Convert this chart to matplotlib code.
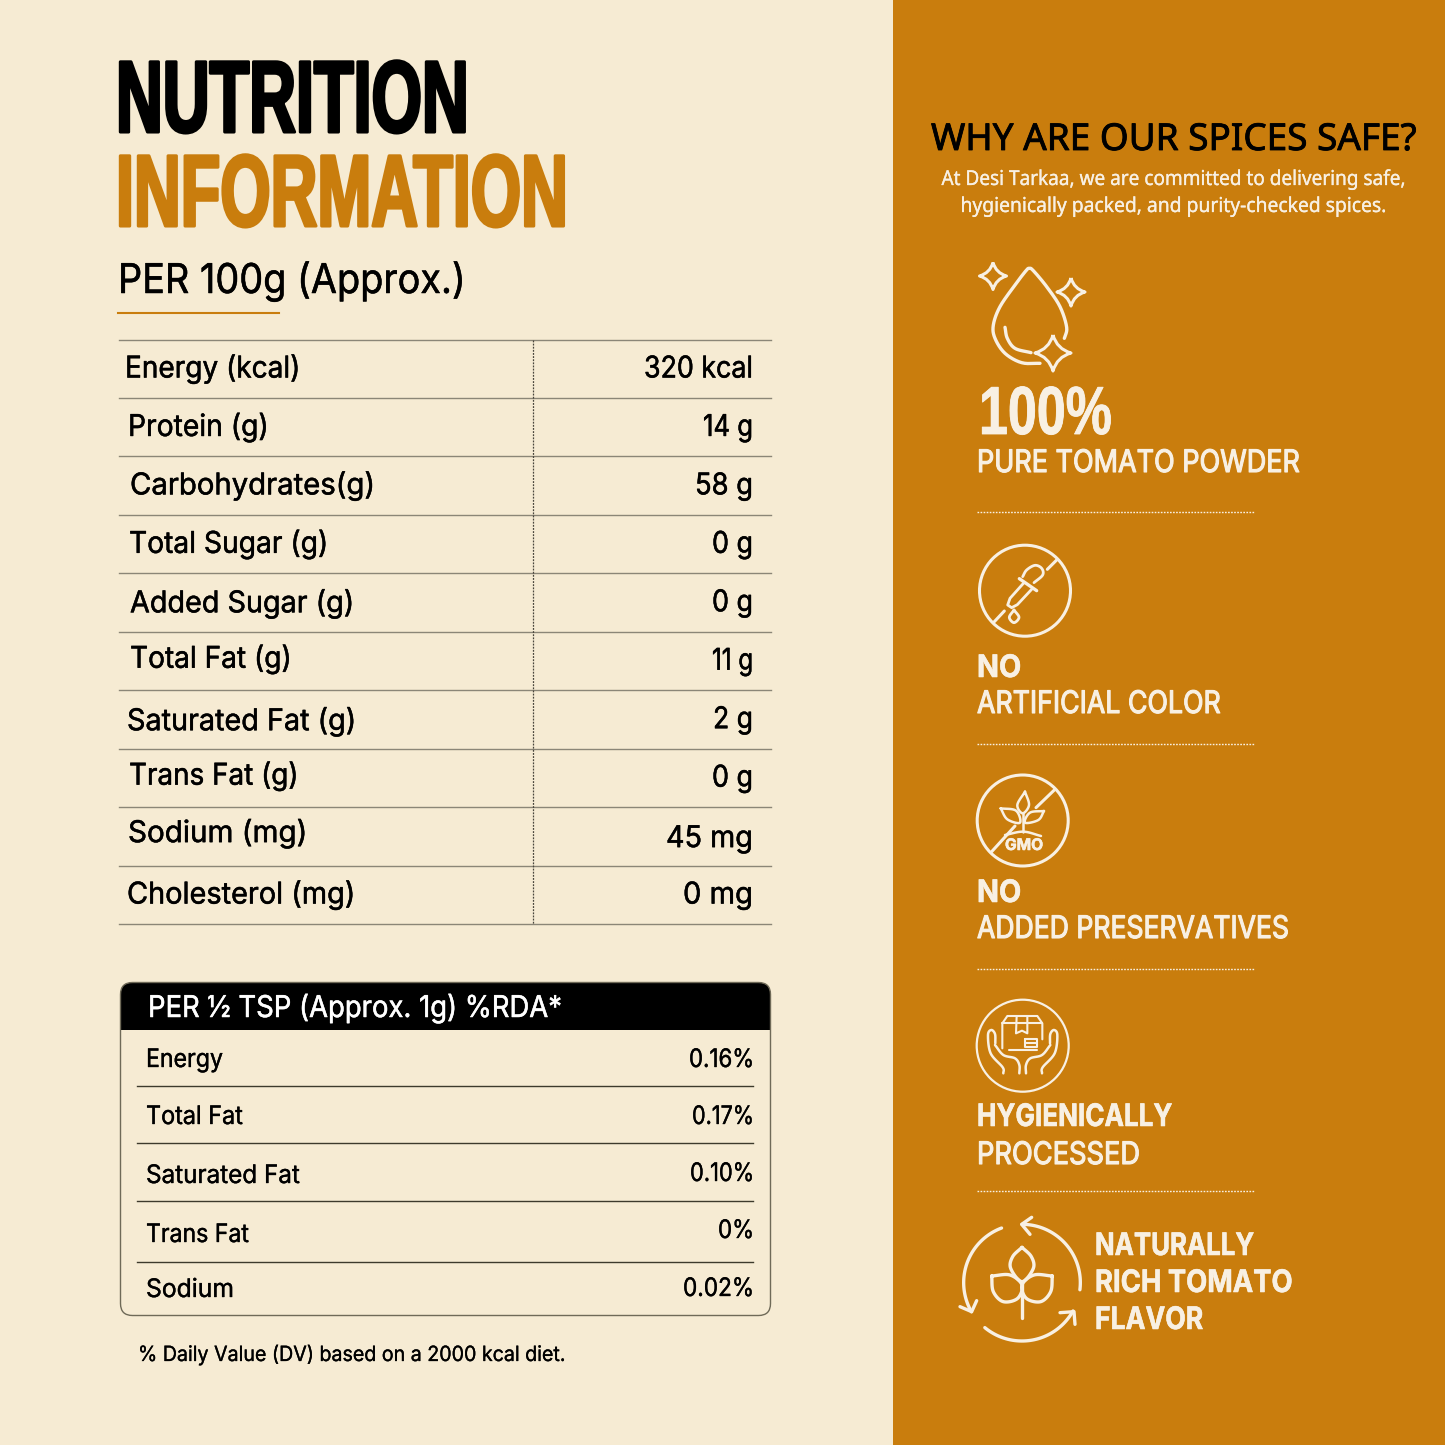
import numpy as np
import matplotlib
matplotlib.use("Agg")
import matplotlib.pyplot as plt
from matplotlib.patches import Circle, FancyBboxPatch, Rectangle
from matplotlib.path import Path
from matplotlib.patches import PathPatch
from matplotlib.patheffects import AbstractPathEffect
from matplotlib.transforms import Affine2D

# data
nutrients = ['Energy (kcal)', 'Protein (g)', 'Carbohydrates(g)', 'Total Sugar (g)', 'Added Sugar (g)',
             'Total Fat (g)', 'Saturated Fat (g)', 'Trans Fat (g)', 'Sodium (mg)', 'Cholesterol (mg)']
per_100g = ['320 kcal', '14 g', '58 g', '0 g', '0 g', '11 g', '2 g', '0 g', '45 mg', '0 mg']
rda_labels = ['Energy', 'Total Fat', 'Saturated Fat', 'Trans Fat', 'Sodium']
rda_values = ['0.16%', '0.17%', '0.10%', '0%', '0.02%']

BG = '#F6EBD3'
ORANGE = '#C97D0D'
CREAM = '#F8F0E3'
BODY = ['Inter', 'DejaVu Sans']
NOTO = ['Noto Sans', 'DejaVu Sans']
HEAVY = ['Liberation Sans', 'DejaVu Sans']

fig = plt.figure(figsize=(14.45, 14.45), dpi=100, facecolor=BG)
ax = fig.add_axes([0, 0, 1, 1])
ax.set_xlim(0, 1445)
ax.set_ylim(1445, 0)
ax.axis('off')
renderer = fig.canvas.get_renderer()


class Squeeze(AbstractPathEffect):
    # no condensed fonts here, so scale the glyphs in x and thicken them a bit
    def __init__(self, x0, sx, extra, color):
        super().__init__()
        self.x0, self.sx, self.extra, self.color = x0, sx, extra, color

    def draw_path(self, rend, gc, tpath, affine, rgbFace=None):
        tr = affine + Affine2D().translate(-self.x0, 0).scale(self.sx, 1).translate(self.x0, 0)
        if self.extra > 0:
            gc0 = rend.new_gc()
            gc0.copy_properties(gc)
            gc0.set_linewidth(self.extra)
            gc0.set_foreground(self.color)
            rend.draw_path(gc0, tpath, tr, rgbFace)
            gc0.restore()
        rend.draw_path(gc, tpath, tr, rgbFace)


def put(x, y, s, px, width=None, color='black', family=BODY, weight='normal', ha='left', extra=0.35, **kw):
    t = ax.text(x, y, s, fontsize=px * 0.72, color=color, family=family, weight=weight,
                ha=ha, va='baseline', **kw)
    sx = 1.0
    if width is not None:
        sx = width / t.get_window_extent(renderer).width
    t.set_path_effects([Squeeze(x, sx, extra, color)])
    return t


def smooth(pts, n=12):
    # catmull-rom through the points
    p = np.array(pts, dtype=float)
    p = np.vstack([2 * p[0] - p[1], p, 2 * p[-1] - p[-2]])
    out = []
    for i in range(1, len(p) - 2):
        for t in np.linspace(0, 1, n, endpoint=False):
            out.append(0.5 * (2 * p[i] + (p[i + 1] - p[i - 1]) * t
                              + (2 * p[i - 1] - 5 * p[i] + 4 * p[i + 1] - p[i + 2]) * t ** 2
                              + (3 * p[i] - p[i - 1] - 3 * p[i + 1] + p[i + 2]) * t ** 3))
    out.append(p[-2])
    return np.array(out)


def stroke(pts, ox, oy, lw=2.0, curve=True):
    # points are given in zoomed (3x) icon space
    p = smooth(pts) if curve else np.array(pts, dtype=float)
    ax.plot(ox + p[:, 0] / 3, oy + p[:, 1] / 3, color=CREAM, lw=lw, solid_capstyle='round',
            solid_joinstyle='round')


def arc(cx, cy, r, a0, a1, ox, oy, lw=2.2):
    t = np.radians(np.linspace(a0, a1, 60))
    stroke(np.column_stack([cx + r * np.cos(t), cy + r * np.sin(t)]), ox, oy, lw, curve=False)


def sparkle(cx, cy, r, lw=2.2):
    k = 0.22 * r
    verts = [(cx, cy - r), (cx + k, cy - k), (cx + r, cy), (cx + k, cy + k), (cx, cy + r),
             (cx - k, cy + k), (cx - r, cy), (cx - k, cy - k), (cx, cy - r)]
    codes = [Path.MOVETO] + [Path.CURVE3] * 8
    ax.add_patch(PathPatch(Path(verts, codes), fc='none', ec=CREAM, lw=lw, joinstyle='round'))


# right panel
ax.add_patch(Rectangle((893, 0), 552, 1445, fc=ORANGE, ec='none'))

# title
put(116, 132, 'NUTRITION', 102, width=353, family=HEAVY, weight='bold', extra=2.2)
put(116, 226, 'INFORMATION', 102, width=452, color=ORANGE, family=HEAVY, weight='bold', extra=2.2)
put(118, 293, 'PER 100g (Approx.)', 41, width=348)
ax.plot([118, 279], [313, 313], color=ORANGE, lw=1.5)

# main table
row_top = 339.5
row_h = 58.45
label_x = [125, 128, 130, 129, 130, 130, 127, 129, 128, 127]
label_w = [176, 141, 246, 200, 225, 162, 230, 170, 180, 229]
value_w = [109, 50, 58, 41, 41, 41, 40, 41, 87, 70]
label_dy = [0, 0, 0, 0, 1, -2, 2, -2, -3, 0]
for i in range(len(nutrients) + 1):
    ax.plot([119, 771], [row_top + i * row_h] * 2, color='#8b8677', lw=1.0)
ax.plot([533, 533], [row_top, row_top + 10 * row_h], color='#4a463c', lw=0.9, ls=(0, (1.5, 1)))
for i, (n, v) in enumerate(zip(nutrients, per_100g)):
    base = row_top + i * row_h + 38
    put(label_x[i], base + label_dy[i], n, 30, width=label_w[i])
    put(753, base + (2 if i == 8 else 0), v, 30, width=value_w[i], ha='right')

# %RDA card
card = FancyBboxPatch((120.5, 982.5), 650, 333, boxstyle='round,pad=0,rounding_size=12',
                      fc='none', ec='#6f6a58', lw=1.0, zorder=3)
ax.add_patch(card)
head = FancyBboxPatch((120.5, 982.5), 650, 333, boxstyle='round,pad=0,rounding_size=12',
                      fc='black', ec='none', zorder=2)
ax.add_patch(head)
head.set_clip_path(Rectangle((120, 982), 651, 48, transform=ax.transData))
put(148, 1017, 'PER ½ TSP (Approx. 1g) %RDA*', 30, width=414, color='white', zorder=4)

rda_base = [1067, 1124, 1183, 1242, 1297]
val_base = [1067, 1124, 1181, 1238, 1296]
rda_w = [77, 97, 154, 103, 88]
val_w = [65, 62, 64, 36, 71]
rule_y = [1085.5, 1143, 1201, 1262]
for y in rule_y:
    ax.plot([137, 753], [y, y], color='#3d3a2c', lw=1.0)
for i, (lab, val) in enumerate(zip(rda_labels, rda_values)):
    put(146, rda_base[i], lab, 25.5, width=rda_w[i], extra=0.25)
    put(754, val_base[i], val, 25.5, width=val_w[i], ha='right', extra=0.25)
put(138, 1361, '% Daily Value (DV) based on a 2000 kcal diet.', 21, width=427, extra=0.2)

# right column text
put(1174, 150, 'WHY ARE OUR SPICES SAFE?', 37, width=486, family=NOTO, ha='center', extra=0.6)
put(1174, 185, 'At Desi Tarkaa, we are committed to delivering safe,', 20.5, width=465, color=CREAM, family=NOTO,
    ha='center', extra=0.2)
put(1174, 212, 'hygienically packed, and purity-checked spices.', 20.5, width=427, color=CREAM, family=NOTO,
    ha='center', extra=0.2)

put(979, 434, '100%', 68, width=133, color=CREAM, family=HEAVY, weight='bold', extra=0.6)
put(977, 472, 'PURE TOMATO POWDER', 31, width=323, color=CREAM, extra=0.8)
put(977, 677, 'NO', 31, width=44, color=CREAM, weight='bold', extra=0.4)
put(977, 713, 'ARTIFICIAL COLOR', 31, width=244, color=CREAM, extra=0.8)
put(977, 902, 'NO', 31, width=44, color=CREAM, weight='bold', extra=0.4)
put(977, 938, 'ADDED PRESERVATIVES', 31, width=312, color=CREAM, extra=0.8)
put(977, 1126, 'HYGIENICALLY', 31, width=195, color=CREAM, weight='bold', extra=0.4)
put(977, 1164, 'PROCESSED', 31, width=163, color=CREAM, extra=0.8)
put(1095, 1255, 'NATURALLY', 31, width=159, color=CREAM, weight='bold', extra=0.4)
put(1095, 1292, 'RICH TOMATO', 31, width=197, color=CREAM, weight='bold', extra=0.4)
put(1095, 1329, 'FLAVOR', 31, width=108, color=CREAM, weight='bold', extra=0.4)

for y in [512, 744, 969, 1191]:
    ax.plot([977, 1254], [y, y], color=CREAM, lw=1.0, ls=(0, (1.2, 1)))

# icon 1: drop and sparkles
ox, oy = 950, 250
stroke([(270, 340), (215, 338), (165, 310), (135, 265), (130, 225), (150, 170), (195, 105), (228, 62),
        (238, 55), (250, 62), (290, 110), (330, 170), (350, 232), (343, 265)], ox, oy, 2.4)
stroke([(165, 232), (172, 265), (195, 295), (243, 308)], ox, oy, 2.4)
sparkle(993, 276, 13.5)
sparkle(1071, 292, 14)
sparkle(1053, 353, 18)

# icon 2: dropper
ox, oy = 960, 530
ax.add_patch(Circle((1025, 590.7), 45.5, fc='none', ec=CREAM, lw=2.2))
stroke([(290, 90), (262, 118)], ox, oy, 2.2, curve=False)
stroke([(133, 243), (103, 275)], ox, oy, 2.2, curve=False)
stroke([(188, 140), (200, 120), (225, 106), (245, 115), (248, 135), (222, 158)], ox, oy, 2.0)
stroke([(178, 146), (230, 182)], ox, oy, 2.4, curve=False)
stroke([(192, 158), (150, 205), (143, 225), (155, 233), (172, 224), (215, 178)], ox, oy, 2.0, curve=False)
stroke([(162, 240), (148, 262), (162, 278), (177, 262), (162, 240)], ox, oy, 2.0)

# icon 3: GMO plant
ax.add_patch(Circle((1022.7, 820.5), 45.5, fc='none', ec=CREAM, lw=2.2))
stroke([(283, 780), (228, 833)], ox, oy, 2.2, curve=False)
stroke([(165, 888), (95, 965)], ox, oy, 2.2, curve=False)
stroke([(195, 785), (172, 825), (188, 850), (207, 825), (195, 785)], ox, oy, 1.8)
stroke([(122, 835), (168, 842), (180, 878), (142, 868), (122, 835)], ox, oy, 1.8)
stroke([(252, 843), (210, 848), (195, 878), (235, 870), (252, 843)], ox, oy, 1.8)
stroke([(188, 850), (188, 905)], ox, oy, 1.8, curve=False)
stroke([(135, 915), (190, 905), (243, 918)], ox, oy, 1.8)
put(1024, 850, 'GMO', 16, width=38, color=CREAM, weight='bold', ha='center', extra=0.4)

# icon 4: box in hands
ox, oy = 950, 990
ax.add_patch(Circle((1022.7, 1045.7), 46, fc='none', ec=CREAM, lw=1.6))
stroke([(157, 175), (157, 100), (172, 78), (262, 78), (277, 100), (277, 148)], ox, oy, 1.5, curve=False)
stroke([(157, 100), (277, 100)], ox, oy, 1.5, curve=False)
stroke([(200, 78), (198, 130), (216, 122), (232, 130), (232, 78)], ox, oy, 1.5, curve=False)
stroke([(225, 148), (262, 148), (262, 172), (225, 172), (225, 148)], ox, oy, 1.5, curve=False)
stroke([(228, 160), (260, 160)], ox, oy, 1.5, curve=False)
stroke([(178, 180), (262, 180)], ox, oy, 1.5, curve=False)
hand_outer = [(160, 250), (158, 232), (122, 190), (114, 135), (124, 120), (135, 132), (136, 160)]
hand_inner = [(135, 165), (160, 195), (195, 205), (208, 225), (208, 250)]
for pts in (hand_outer, hand_inner):
    stroke(pts, ox, oy, 1.8)
    stroke([(436 - x, y) for x, y in pts], ox, oy, 1.8)

# icon 5: leaf in a cycle
stroke([(216, 772), (188, 800), (182, 835), (216, 875), (250, 835), (244, 800), (216, 772)], ox, oy, 2.4)
left_leaf = [(125, 858), (180, 855), (216, 885), (203, 925), (160, 935), (130, 905), (125, 858)]
stroke(left_leaf, ox, oy, 2.4)
stroke([(432 - x, y) for x, y in left_leaf], ox, oy, 2.4)
stroke([(216, 875), (216, 985)], ox, oy, 2.4, curve=False)
arc(216, 878, 175, -90, 7, ox, oy, 2.4)
arc(216, 878, 175, 249.5, 150, ox, oy, 2.4)
arc(216, 878, 175, 129.6, 29, ox, oy, 2.4)
stroke([(245, 682), (215, 703), (240, 733)], ox, oy, 2.4, curve=False)
stroke([(30, 950), (65, 965), (80, 932)], ox, oy, 2.4, curve=False)
stroke([(330, 968), (372, 965), (375, 1003)], ox, oy, 2.4, curve=False)

fig.savefig('out.png', dpi=100, facecolor=BG)
